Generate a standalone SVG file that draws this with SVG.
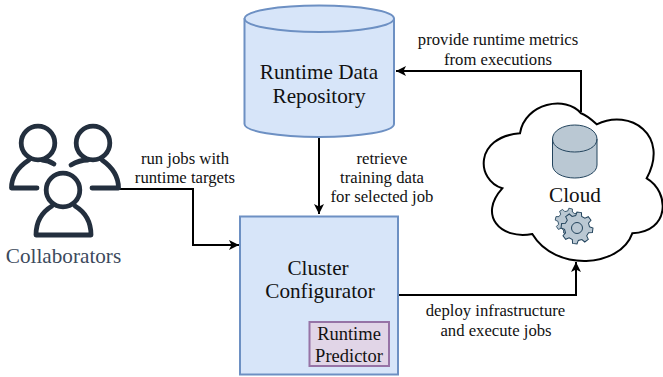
<svg xmlns="http://www.w3.org/2000/svg" xmlns:xlink="http://www.w3.org/1999/xlink" width="663" height="377" viewBox="0 0 663 377">
<style>
text{font-family:"Liberation Serif","Times New Roman",serif;fill:#111;text-anchor:middle}
.big{font-size:21.2px}
.lab{font-size:16.7px}
.pred{font-size:18.5px}
.blue{fill:#d7e5f9;stroke:#6d90c3;stroke-width:2}
.conn{fill:none;stroke:#000;stroke-width:2}
.person{fill:none;stroke:#232f3e;stroke-width:4.8;stroke-linecap:round;stroke-linejoin:round}
.dark{fill:#bac8d3;stroke:#23445d;stroke-width:1}
</style>
<defs>
<marker id="arrow" markerUnits="userSpaceOnUse" markerWidth="12" markerHeight="12" refX="10" refY="5" orient="auto"><path d="M0,0L10,5L0,10L2.5,5Z" fill="#000"/></marker>
<polygon id="gear" points="12.13,-3.02 15.84,-2.23 15.84,2.23 12.13,3.02 10.71,6.44 12.78,9.63 9.63,12.78 6.44,10.71 3.02,12.13 2.23,15.84 -2.23,15.84 -3.02,12.13 -6.44,10.71 -9.63,12.78 -12.78,9.63 -10.71,6.44 -12.13,3.02 -15.84,2.23 -15.84,-2.23 -12.13,-3.02 -10.71,-6.44 -12.78,-9.63 -9.63,-12.78 -6.44,-10.71 -3.02,-12.13 -2.23,-15.84 2.23,-15.84 3.02,-12.13 6.44,-10.71 9.63,-12.78 12.78,-9.63 10.71,-6.44"/>
</defs>
<g id="connectors">
<path class="conn" d="M319,137V214" marker-end="url(#arrow)"/>
<path class="conn" d="M120,189H193V245H239" marker-end="url(#arrow)"/>
<path class="conn" d="M581,112V71H396" marker-end="url(#arrow)"/>
<path class="conn" d="M399,295H576V262" marker-end="url(#arrow)"/>
</g>
<g id="repository">
<path class="blue" d="M244.5,18.5C244.5,11 278,5.500 319.250,5.500C360.500,5.500 394,11 394,18.500V124C394,131.500 360.500,137 319.250,137C278,137 244.500,131.500 244.500,124Z"/>
<path class="blue" style="fill:none" d="M244.500,18.500C244.500,26 278,32 319.250,32C360.500,32 394,26 394,18.500"/>
<text class="big" x="319" y="79">Runtime Data</text>
<text class="big" x="319" y="103">Repository</text>
</g>
<g id="configurator">
<rect class="blue" x="240" y="216.500" width="158" height="158"/>
<text class="big" x="318" y="275">Cluster</text>
<text class="big" x="320" y="298">Configurator</text>
</g>
<g id="predictor">
<rect x="309.500" y="322" width="79.500" height="44" fill="#e1d5e7" stroke="#9673a6" stroke-width="2"/>
<text class="pred" x="349" y="340">Runtime</text>
<text class="pred" x="349" y="361.500">Predictor</text>
</g>
<g id="collaborators">
<circle class="person" cx="38" cy="143" r="16.800"/>
<path class="person" d="M37,188H11.500C11.500,176 18,167 29,160M42,160C47,160 51,162 54,164"/>
<circle class="person" cx="93" cy="143" r="16.800"/>
<path class="person" d="M92,188H118.500C118.500,176 112,167 102,160M88,160C82,160 76,162 71,165"/>
<circle class="person" cx="63" cy="190" r="16.800"/>
<path class="person" d="M52,206C42,212 36,222 36,235H91C91,222 85,212 75,206"/>
<text class="big" x="63.500" y="263" style="fill:#3c4a5c">Collaborators</text>
</g>
<g id="cloud">
<path d="M502.300,188.300C476,180 474,137 520,133.300C525,103 566,95 581,113.300C586,115 592,120 596.700,124.300C630,108 670,135 646.700,178.300C670,192 670,232 632.300,233.300C620,268 555,272 532.300,234C500,240 478,215 502.300,188.300Z" fill="#fff" stroke="#000" stroke-width="2"/>
<path class="dark" d="M552.500,139C552.500,131 562.500,125 574.750,125C587,125 597,131 597,139V165C597,172.500 587,178 574.750,178C562.500,178 552.500,172.500 552.500,165Z"/>
<path class="dark" style="fill:none" d="M552.500,139C552.500,147 562.500,152 574.750,152C587,152 597,147 597,139"/>
<text class="big" x="575" y="202">Cloud</text>
<use xlink:href="#gear" href="#gear" class="dark" transform="translate(568,221) rotate(12) scale(.8)"/>
<use xlink:href="#gear" href="#gear" class="dark" transform="translate(577,228) rotate(8)"/>
<circle class="dark" cx="577" cy="228" r="5.500"/>
</g>
<g id="labels">
<text class="lab" x="185" y="163.500">run jobs with</text>
<text class="lab" x="185" y="182.500">runtime targets</text>
<text class="lab" x="382" y="163.500">retrieve</text>
<text class="lab" x="382" y="182.500">training data</text>
<text class="lab" x="382" y="201.500">for selected job</text>
<text class="lab" x="498" y="45">provide runtime metrics</text>
<text class="lab" x="498" y="65">from executions</text>
<text class="lab" x="495.500" y="316">deploy infrastructure</text>
<text class="lab" x="496" y="336">and execute jobs</text>
</g>
</svg>
